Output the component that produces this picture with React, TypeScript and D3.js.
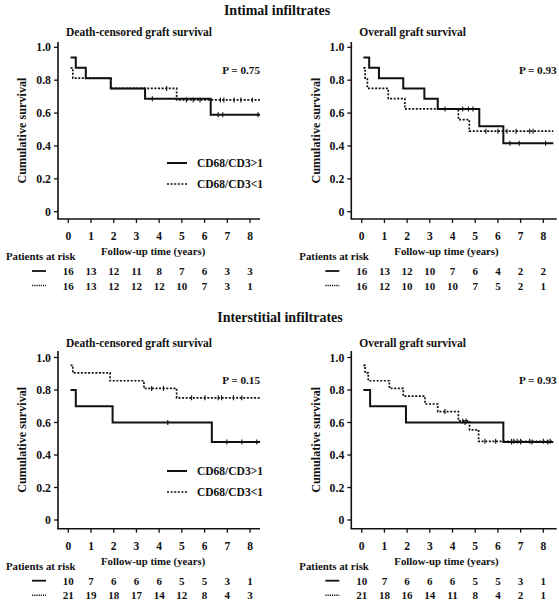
import React from "react";
import * as d3 from "d3";

// ---------- DATA ----------
const xTicks = [0, 1, 2, 3, 4, 5, 6, 7, 8];
const yTicks = [0, 0.2, 0.4, 0.6, 0.8, 1.0];
const yTickLabels = ["0", "0.2", "0.4", "0.6", "0.8", "1.0"];
const legendLabels = ["CD68/CD3>1", "CD68/CD3<1"];
const sectionTitles = ["Intimal infiltrates", "Interstitial infiltrates"];
const panelTitles = ["Death-censored graft survival", "Overall graft survival"];

// Intimal, death-censored
const intDcHighT = [0.1, 0.33, 0.77, 1.87, 3.38, 6.27, 8.44];
const intDcHighS = [0.9375, 0.875, 0.8125, 0.75, 0.6875, 0.59, 0.59];
const intDcHighC = [3.7, 6.6, 6.8, 8.35];
const intDcLowT = [0.1, 0.2, 1.87, 4.77, 8.44];
const intDcLowS = [0.875, 0.8125, 0.75, 0.68, 0.68];
const intDcLowC = [4.33, 5.2, 5.5, 5.8, 6.7, 6.85, 7.3, 7.6, 8.1];
const intDcRiskHigh = [16, 13, 12, 11, 8, 7, 6, 3, 3];
const intDcRiskLow = [16, 13, 12, 12, 12, 10, 7, 3, 1];

// Intimal, overall
const intOvHighT = [0.07, 0.33, 0.76, 1.83, 2.76, 3.35, 5.18, 6.24, 8.44];
const intOvHighS = [0.9375, 0.875, 0.8125, 0.75, 0.6875, 0.625, 0.52, 0.417, 0.417];
const intOvHighC = [4.45, 4.7, 4.9, 6.53, 6.94, 8.1];
const intOvLowT = [0.07, 0.15, 0.25, 1.17, 1.9, 4.26, 4.74, 8.44];
const intOvLowS = [0.875, 0.8125, 0.75, 0.6875, 0.625, 0.56, 0.49, 0.49];
const intOvLowC = [3.67, 5.47, 6.0, 6.4, 6.8, 7.4, 7.55];
const intOvRiskHigh = [16, 13, 12, 10, 7, 6, 4, 2, 2];
const intOvRiskLow = [16, 12, 10, 10, 10, 7, 5, 2, 1];

// Interstitial, death-censored
const istDcHighT = [0.1, 0.33, 1.95, 6.32, 8.44];
const istDcHighS = [0.8, 0.7, 0.6, 0.48, 0.48];
const istDcHighC = [4.38, 6.98, 7.64, 8.3];
const istDcLowT = [0.1, 0.2, 1.84, 3.33, 4.77, 8.44];
const istDcLowS = [0.952, 0.905, 0.857, 0.81, 0.752, 0.752];
const istDcLowC = [3.67, 4.19, 5.43, 6.02, 6.6, 6.75, 7.27, 7.64];
const istDcRiskHigh = [10, 7, 6, 6, 6, 5, 5, 3, 1];
const istDcRiskLow = [21, 19, 18, 17, 14, 12, 8, 4, 3];

// Interstitial, overall
const istOvHighT = [0.07, 0.37, 1.95, 6.24, 8.44];
const istOvHighS = [0.8, 0.7, 0.6, 0.48, 0.48];
const istOvHighC = [4.55, 6.6, 7.0, 7.5, 8.2];
const istOvLowT = [0.07, 0.15, 0.29, 1.22, 1.83, 2.79, 3.35, 4.26, 4.75, 5.15, 8.44];
const istOvLowS = [0.952, 0.905, 0.857, 0.81, 0.762, 0.714, 0.667, 0.61, 0.555, 0.484, 0.484];
const istOvLowC = [3.67, 4.45, 4.6, 5.43, 5.9, 6.6, 6.7, 6.85, 7.0, 7.4, 8.0, 8.3];
const istOvRiskHigh = [10, 7, 6, 6, 6, 5, 5, 3, 1];
const istOvRiskLow = [21, 18, 16, 14, 11, 8, 4, 2, 1];

const pValues = ["P = 0.75", "P = 0.93", "P = 0.15", "P = 0.93"];

// ---------- LAYOUT ----------
const FONT = "'Liberation Serif', 'Times New Roman', serif";
const INK = "#111";

type Curve = { t: number[]; s: number[]; c: number[] };
type PanelProps = {
  yAxisX: number;
  x0: number;
  x8: number;
  axisEnd: number;
  y0: number;
  y1: number;
  yAxisTop: number;
  axisY: number;
  title: string;
  pValue: string;
  high: Curve;
  low: Curve;
  riskHigh: number[];
  riskLow: number[];
  legend: boolean;
  legendY: number;
};

function stepAt(c: Curve, t: number) {
  let v = c.s[0];
  for (let i = 0; i < c.t.length; i++) if (c.t[i] <= t) v = c.s[i];
  return v;
}

function Panel(p: PanelProps) {
  const x = d3.scaleLinear().domain([0, 8]).range([p.x0, p.x8]);
  const y = d3.scaleLinear().domain([0, 1]).range([p.y0, p.y1]);
  const line = d3
    .line<[number, number]>()
    .x((d) => x(d[0]))
    .y((d) => y(d[1]))
    .curve(d3.curveStepAfter);
  const pts = (c: Curve) => c.t.map((t, i) => [t, c.s[i]] as [number, number]);
  const curves = [
    { c: p.high, dash: undefined, w: 2 },
    { c: p.low, dash: "2 1.6", w: 1.7 },
  ];
  const midX = x(4) - 6;
  return (
    <g>
      <text x={p.yAxisX + 8} y={p.y1 - 11} fontSize={11.5} fontWeight="bold" fill={INK}>
        {p.title}
      </text>
      {/* axes */}
      <line x1={p.yAxisX} x2={p.yAxisX} y1={p.yAxisTop} y2={p.axisY} stroke={INK} strokeWidth={1.6} />
      <line x1={p.yAxisX - 0.8} x2={p.axisEnd} y1={p.axisY} y2={p.axisY} stroke={INK} strokeWidth={1.6} />
      {yTicks.map((v, i) => (
        <g key={"yt" + i}>
          <line x1={p.yAxisX - 4} x2={p.yAxisX} y1={y(v)} y2={y(v)} stroke={INK} strokeWidth={1.3} />
          <text
            x={p.yAxisX - 7}
            y={y(v)}
            dy="0.35em"
            textAnchor="end"
            fontSize={11.8}
            fontWeight="bold"
            fill={INK}
          >
            {yTickLabels[i]}
          </text>
        </g>
      ))}
      {xTicks.map((v) => (
        <g key={"xt" + v}>
          <line x1={x(v)} x2={x(v)} y1={p.axisY} y2={p.axisY + 4} stroke={INK} strokeWidth={1.3} />
          <text x={x(v)} y={p.axisY + 21} textAnchor="middle" fontSize={11.5} fontWeight="bold" fill={INK}>
            {v}
          </text>
        </g>
      ))}
      <text
        transform={`translate(${p.yAxisX - 36},${(p.y0 + p.y1) / 2 + 1}) rotate(-90)`}
        textAnchor="middle"
        dy="0.35em"
        fontSize={12.2}
        fontWeight="bold"
        fill={INK}
      >
        Cumulative survival
      </text>
      <text x={midX} y={p.axisY + 36} textAnchor="middle" fontSize={10.8} fontWeight="bold" fill={INK}>
        Follow-up time (years)
      </text>
      {/* curves */}
      {curves.map((k, i) => (
        <g key={"c" + i}>
          <path
            d={line(pts(k.c)) || ""}
            fill="none"
            stroke={INK}
            strokeWidth={k.w}
            strokeDasharray={k.dash}
          />
          {k.c.c.map((t, j) => (
            <line
              key={j}
              x1={x(t)}
              x2={x(t)}
              y1={y(stepAt(k.c, t)) - 2.5}
              y2={y(stepAt(k.c, t)) + 2.5}
              stroke={INK}
              strokeWidth={1.1}
            />
          ))}
        </g>
      ))}
      <text x={p.axisEnd} y={y(0.835)} textAnchor="end" fontSize={11.2} fontWeight="bold" fill={INK}>
        {p.pValue}
      </text>
      {p.legend &&
        legendLabels.map((lab, i) => (
          <g key={"lg" + i}>
            <line
              x1={p.yAxisX + 109}
              x2={p.yAxisX + 129}
              y1={p.legendY + i * 21}
              y2={p.legendY + i * 21}
              stroke={INK}
              strokeWidth={i === 0 ? 2 : 1.7}
              strokeDasharray={i === 0 ? undefined : "2 1.6"}
            />
            <text
              x={p.yAxisX + 139}
              y={p.legendY + i * 21}
              dy="0.35em"
              fontSize={11.5}
              fontWeight="bold"
              fill={INK}
            >
              {lab}
            </text>
          </g>
        ))}
      {/* risk table */}
      <text x={p.yAxisX - 52} y={p.axisY + 41} fontSize={10.8} fontWeight="bold" fill={INK}>
        Patients at risk
      </text>
      {[p.riskHigh, p.riskLow].map((row, r) => (
        <g key={"r" + r}>
          <line
            x1={p.yAxisX - 26}
            x2={p.yAxisX - 12}
            y1={p.axisY + 52 + r * 14.5}
            y2={p.axisY + 52 + r * 14.5}
            stroke={INK}
            strokeWidth={r === 0 ? 1.8 : 1.4}
            strokeDasharray={r === 0 ? undefined : "1.2 1"}
          />
          {row.map((n, i) => (
            <text
              key={i}
              x={x(xTicks[i])}
              y={p.axisY + 56 + r * 14.5}
              textAnchor="middle"
              fontSize={11}
              fontWeight="bold"
              fill={INK}
            >
              {n}
            </text>
          ))}
        </g>
      ))}
    </g>
  );
}

export default function App() {
  const left = { yAxisX: 58, x0: 68.3, x8: 250, axisEnd: 260 };
  const right = { yAxisX: 351.3, x0: 361.7, x8: 543.3, axisEnd: 556.7 };
  const top = { y0: 211.7, y1: 47.3, yAxisTop: 42, axisY: 219, legendY: 163 };
  const bot = { y0: 520, y1: 357.5, yAxisTop: 351, axisY: 528.7, legendY: 471 };
  return (
    <div style={{ position: "absolute", left: 0, top: 0, width: 559, height: 601, background: "#fff" }}>
      <svg width={559} height={601} fontFamily={FONT} style={{ display: "block" }}>
        <rect width={559} height={601} fill="#fff" />
        <text x={277} y={15} textAnchor="middle" fontSize={14} fontWeight="bold" fill={INK}>
          {sectionTitles[0]}
        </text>
        <text x={280} y={322} textAnchor="middle" fontSize={14} fontWeight="bold" fill={INK}>
          {sectionTitles[1]}
        </text>
        <Panel
          {...left}
          {...top}
          title={panelTitles[0]}
          pValue={pValues[0]}
          high={{ t: intDcHighT, s: intDcHighS, c: intDcHighC }}
          low={{ t: intDcLowT, s: intDcLowS, c: intDcLowC }}
          riskHigh={intDcRiskHigh}
          riskLow={intDcRiskLow}
          legend={true}
        />
        <Panel
          {...right}
          {...top}
          title={panelTitles[1]}
          pValue={pValues[1]}
          high={{ t: intOvHighT, s: intOvHighS, c: intOvHighC }}
          low={{ t: intOvLowT, s: intOvLowS, c: intOvLowC }}
          riskHigh={intOvRiskHigh}
          riskLow={intOvRiskLow}
          legend={false}
        />
        <Panel
          {...left}
          {...bot}
          title={panelTitles[0]}
          pValue={pValues[2]}
          high={{ t: istDcHighT, s: istDcHighS, c: istDcHighC }}
          low={{ t: istDcLowT, s: istDcLowS, c: istDcLowC }}
          riskHigh={istDcRiskHigh}
          riskLow={istDcRiskLow}
          legend={true}
        />
        <Panel
          {...right}
          {...bot}
          title={panelTitles[1]}
          pValue={pValues[3]}
          high={{ t: istOvHighT, s: istOvHighS, c: istOvHighC }}
          low={{ t: istOvLowT, s: istOvLowS, c: istOvLowC }}
          riskHigh={istOvRiskHigh}
          riskLow={istOvRiskLow}
          legend={false}
        />
      </svg>
    </div>
  );
}
